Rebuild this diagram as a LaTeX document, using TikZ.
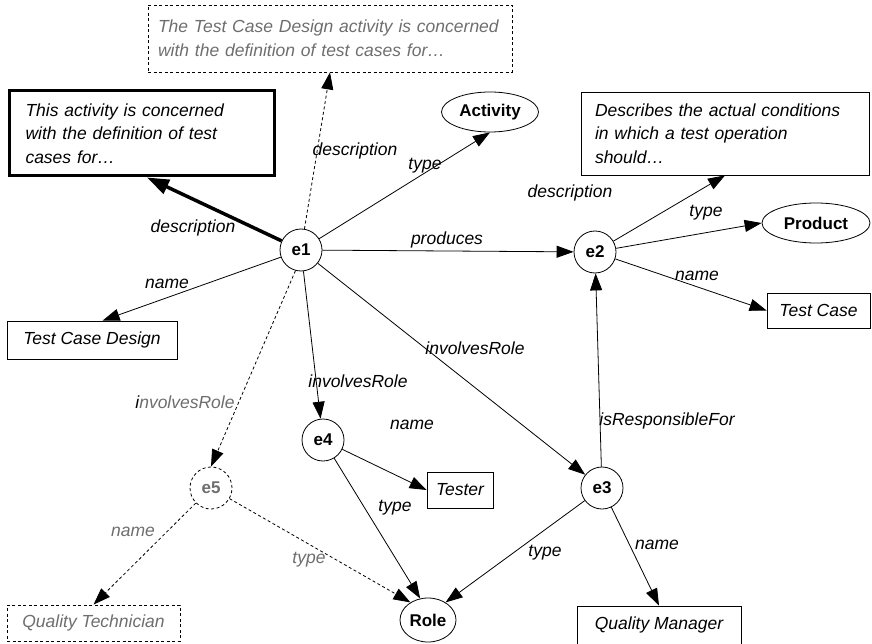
\documentclass[tikz,border=0pt]{standalone}
\usepackage{fontspec}
\setmainfont{Liberation Sans}
\usetikzlibrary{arrows.meta,shapes.geometric,calc}
\definecolor{faded}{HTML}{6E6E6E}
\begin{document}
\begin{tikzpicture}[x=1pt,y=-1pt,
  ent/.style={circle,draw,line width=0.8pt,minimum size=42pt,inner sep=0pt,
    font=\fontsize{17}{20}\selectfont\bfseries},
  cls/.style={ellipse,draw,line width=0.8pt,inner sep=0pt,
    font=\fontsize{17}{20}\selectfont\bfseries},
  lit/.style={rectangle,draw,line width=0.8pt,inner sep=0pt,
    font=\fontsize{17.5}{23.5}\selectfont\itshape},
  note/.style={lit,align=left},
  lbl/.style={inner sep=0pt,font=\fontsize{17.5}{20}\selectfont\itshape},
  arr/.style={line width=0.8pt,-{Triangle[length=17pt,width=12pt]}},
  faint/.style={dash pattern=on 3pt off 2.5pt},
]
\useasboundingbox (0,0) rectangle (872,644);

% resources
\node[ent] (e1) at (301,250) {e1};
\node[ent] (e2) at (595,252) {e2};
\node[ent] (e3) at (602,488) {e3};
\node[ent] (e4) at (323,440) {e4};
\node[ent,faint,text=faded] (e5) at (211,488) {e5};

% classes
\node[cls,minimum width=97pt,minimum height=40pt] (act) at (490,112) {Activity};
\node[cls,minimum width=108pt,minimum height=40pt] (prod) at (816,223) {Product};
\node[cls,minimum width=56pt,minimum height=44pt] (role) at (428,620) {Role};

% literals
\node[lit,minimum width=170pt,minimum height=38pt] (tcd) at (92,340) {Test Case Design};
\node[lit,minimum width=103pt,minimum height=35pt] (tc) at (818.5,310.5) {Test Case};
\node[lit,minimum width=66pt,minimum height=36pt] (tester) at (460,490) {Tester};
\node[lit,minimum width=164pt,minimum height=38pt] (qm) at (659,625) {Quality Manager};
\node[lit,faint,text=faded,minimum width=173pt,minimum height=36pt] (qt) at (93.5,623) {Quality Technician};

% descriptions
\node[note,line width=3pt,text width=233pt,inner xsep=16pt,minimum height=85pt] (tl) at (142,133.5)
  {This activity is concerned\\with the definition of test\\cases for…};
\node[note,faint,text=faded,text width=344pt,inner xsep=10pt,minimum height=67pt] (td) at (330,38.5)
  {The Test Case Design activity is concerned\\with the definition of test cases for…};
\node[note,text width=260pt,inner xsep=14pt,minimum height=83pt] (rd) at (725,133.5)
  {Describes the actual conditions\\in which a test operation\\should…};

% properties
\draw[line width=3.5pt,-{Triangle[length=22pt,width=15pt]}] (e1) -- ($(tl.south west)+(139,0)$);
\draw[arr,faint] (e1) -- (td.south);
\draw[arr] (e1) -- (act.south);
\draw[arr] (e1) -- (e2);
\draw[arr] (e1) -- ($(tcd.north west)+(96,0)$);
\draw[arr] (e1) -- (e4);
\draw[arr] (e1) -- (e3);
\draw[arr,faint] (e1.255) -- (e5.north);
\draw[arr] (e2) -- (rd.south);
\draw[arr] (e2) -- (prod.west);
\draw[arr] (e2) -- (tc.west);
\draw[arr] (e3) -- (e2);
\draw[arr] (e4) -- (tester.west);
\draw[arr] (e4) -- (role.110);
\draw[arr] (e3) -- (role.45);
\draw[arr] (e3) -- (qm.north);
\draw[arr,faint] (e5) -- (qt.north);
\draw[arr,faint] (e5) -- (role.135);

% property labels
\node[lbl] (l1) at (193,228) {description};
\node[lbl] (l2) at (355,151) {description};
\node[lbl] (l3) at (425,166) {type};
\node[lbl] (l4) at (447,240) {produces};
\node[lbl] (l5) at (167,284) {name};
\node[lbl] (l6) at (358,381) {involvesRole};
\node[lbl] (l7) at (475,348) {involvesRole};
\node[lbl,text=faded] (l8) at (185,402) {{\color{black}i}nvolvesRole};
\node[lbl] (l9) at (570,193) {description};
\node[lbl] (l10) at (706,213) {type};
\node[lbl] (l11) at (697,276) {name};
\node[lbl] (l12) at (667,421) {isResponsibleFor};
\node[lbl] (l13) at (412,425) {name};
\node[lbl] (l14) at (395,508) {type};
\node[lbl] (l15) at (545,553) {type};
\node[lbl] (l16) at (657,545) {name};
\node[lbl,text=faded] (l17) at (133,532) {name};
\node[lbl,text=faded] (l18) at (309,560) {type};
\end{tikzpicture}
\end{document}
